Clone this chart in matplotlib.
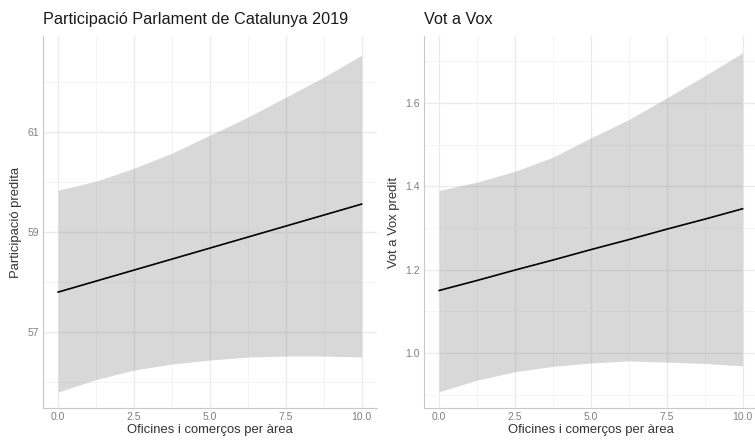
import numpy as np
import matplotlib
matplotlib.use("Agg")
import matplotlib.pyplot as plt
from matplotlib.ticker import MultipleLocator, FixedLocator

plt.rcParams['font.family'] = ['Liberation Sans', 'DejaVu Sans']

# predictor grid
x = [0.0, 1.25, 2.5, 3.75, 5.0, 6.25, 7.5, 8.75, 10.0]

# participation model
part_fit = [57.80, 58.02, 58.24, 58.46, 58.68, 58.90, 59.12, 59.34, 59.56]
part_hi = [59.84, 60.02, 60.28, 60.58, 60.94, 61.30, 61.70, 62.10, 62.54]
part_lo = [55.80, 56.05, 56.24, 56.36, 56.44, 56.50, 56.52, 56.52, 56.50]
part_ticks = [57, 59, 61]
part_minor = [56, 58, 60, 62]

# vox model
vox_fit = [1.150, 1.174, 1.199, 1.223, 1.248, 1.272, 1.297, 1.321, 1.346]
vox_hi = [1.390, 1.410, 1.436, 1.470, 1.516, 1.560, 1.612, 1.665, 1.720]
vox_lo = [0.907, 0.935, 0.955, 0.968, 0.976, 0.981, 0.978, 0.975, 0.969]
vox_ticks = [1.0, 1.2, 1.4, 1.6]
vox_minor = [0.9, 1.1, 1.3, 1.5, 1.7]

fig = plt.figure(figsize=(7.55, 4.4), dpi=100)
ax1 = fig.add_axes([0.057, 0.0727, 0.442, 0.845])
ax2 = fig.add_axes([0.5616, 0.0727, 0.442, 0.845])


def style(ax, title, ylabel, ylim, yticks, yminor, fmt):
    ax.set_xlim(-0.5, 10.5)
    ax.set_ylim(*ylim)
    ax.xaxis.set_major_locator(MultipleLocator(2.5))
    ax.xaxis.set_minor_locator(MultipleLocator(1.25))
    ax.yaxis.set_major_locator(FixedLocator(yticks))
    ax.yaxis.set_minor_locator(FixedLocator(yminor))
    ax.xaxis.set_major_formatter(lambda v, p: f"{v:.1f}")
    ax.yaxis.set_major_formatter(lambda v, p: fmt.format(v))
    ax.grid(which='major', color='#EBEBEB', lw=1.0)
    ax.grid(which='minor', color='#F2F2F2', lw=0.6)
    ax.set_axisbelow(True)
    for s in ['top', 'right']:
        ax.spines[s].set_visible(False)
    for s in ['left', 'bottom']:
        ax.spines[s].set_color('#C8C8C8')
        ax.spines[s].set_linewidth(0.8)
    ax.tick_params(which='both', length=0, labelsize=7.5, labelcolor='#7F7F7F', pad=3)
    ax.set_title(title, loc='left', fontsize=11.7, color='#1A1A1A', pad=9)
    ax.set_xlabel('Oficines i comerços per àrea', fontsize=9.4, color='#333333', labelpad=1)
    ax.set_ylabel(ylabel, fontsize=9.4, color='#333333', labelpad=4)


ax1.fill_between(x, part_lo, part_hi, color='#808080', alpha=0.3, lw=0)
ax1.plot(x, part_fit, color='black', lw=1.2)
style(ax1, 'Participació Parlament de Catalunya 2019', 'Participació predita',
      (55.48, 62.92), part_ticks, part_minor, "{:.0f}")

ax2.fill_between(x, vox_lo, vox_hi, color='#808080', alpha=0.3, lw=0)
ax2.plot(x, vox_fit, color='black', lw=1.2)
style(ax2, 'Vot a Vox', 'Vot a Vox predit', (0.868, 1.76), vox_ticks, vox_minor, "{:.1f}")

fig.savefig('out.png', dpi=100)
